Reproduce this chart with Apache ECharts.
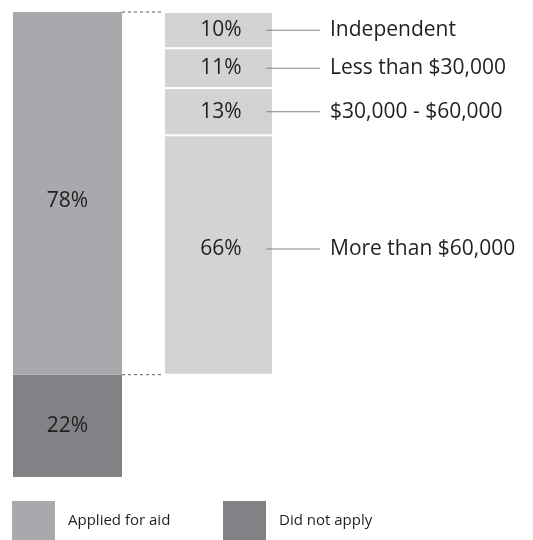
<!DOCTYPE html>
<html>
<head>
<meta charset="utf-8">
<script src="https://cdn.jsdelivr.net/npm/echarts@6/dist/echarts.min.js"></script>
<style>
  html, body { margin: 0; padding: 0; background: #fff; }
  #main { width: 533px; height: 540px; }
</style>
</head>
<body>
<div id="main"></div>
<script>
  // 左边：全部学生
  let categories = ['All', 'Applied'];
  let appliedPct = 78;
  let notAppliedPct = 22;
  // 右边：申请者的收入分布（从下往上）
  let incomeNames = ['More than $60,000', '$30,000 - $60,000', 'Less than $30,000', 'Independent'];
  let incomePct = [66, 13, 11, 10];

  let FONT = '"Open Sans", "Noto Sans", sans-serif';
  let GRID = { left: 67.5, right: 314.5, top: 12, bottom: 63 };
  let BAR_W = 109;
  let chart = echarts.init(document.getElementById('main'));

  // 虚线只画在两根柱子之间的空隙里（第二条x轴 0~1 对应两根柱子的中心）
  let gridW = 533 - GRID.left - GRID.right;
  let gapFrom = (BAR_W / 2) / gridW;
  let gapTo = 1 - (BAR_W / 2) / gridW;
  let dashLine = function (name, v) {
    return {
      name: name,
      type: 'line',
      xAxisIndex: 1,
      silent: true,
      symbol: 'none',
      clip: false,
      data: [[gapFrom, v], [gapTo, v]],
      lineStyle: { color: '#58595b', type: [3, 3], width: 1 }
    };
  };

  let series = [
    {
      name: 'Did not apply',
      type: 'bar',
      stack: 'total',
      clip: false,
      barWidth: BAR_W,
      data: [notAppliedPct, '-'],
      itemStyle: { color: '#808285' },
      label: { show: true, position: 'inside', formatter: '{c}%', fontSize: 21, color: '#231f20', fontFamily: FONT }
    },
    {
      name: 'Applied for aid',
      type: 'bar',
      stack: 'total',
      clip: false,
      barWidth: BAR_W,
      data: [appliedPct, '-'],
      itemStyle: { color: '#a7a9ac' },
      label: { show: true, position: 'inside', formatter: '{c}%', fontSize: 21, color: '#231f20', fontFamily: FONT, offset: [0, 8] }
    },
    {
      // 透明底座，让右边的柱子浮在78%的位置
      name: 'base',
      type: 'bar',
      stack: 'total',
      clip: false,
      barWidth: BAR_W,
      data: ['-', notAppliedPct],
      itemStyle: { color: 'rgba(0,0,0,0)' },
      silent: true
    },
    dashLine('top', appliedPct + notAppliedPct),
    dashLine('split', notAppliedPct)
  ];

  incomePct.forEach(function (p, i) {
    series.push({
      name: incomeNames[i],
      type: 'bar',
      stack: 'total',
      clip: false,
      barWidth: BAR_W,
      data: ['-', appliedPct * p / 100],
      itemStyle: { color: '#d1d3d4', borderColor: '#fff', borderWidth: 1 },
      label: {
        show: true,
        position: 'insideLeft',
        distance: 0,
        offset: i === 0 ? [0, -6] : [0, 0],
        formatter: '{p|' + p + '%}{l|}{n|' + incomeNames[i] + '}',
        rich: {
          p: { width: 90, align: 'center', fontSize: 21, color: '#231f20', fontFamily: FONT, padding: [0, 0, 0, 12] },
          l: { width: 54, height: 1, backgroundColor: '#808285' },
          n: { fontSize: 21, color: '#231f20', fontFamily: FONT, padding: [0, 0, 0, 10] }
        }
      }
    });
  });

  let legendText = { fontSize: 15, color: '#231f20', fontFamily: FONT, padding: [0, 0, 0, 8] };

  chart.setOption({
    animation: false,
    legend: [
      { data: ['Applied for aid'], left: 12, top: 501, padding: 0, icon: 'rect', itemWidth: 43, itemHeight: 40, textStyle: legendText, selectedMode: false },
      { data: ['Did not apply'], left: 223, top: 501, padding: 0, icon: 'rect', itemWidth: 43, itemHeight: 40, textStyle: legendText, selectedMode: false }
    ],
    grid: GRID,
    xAxis: [
      { type: 'category', data: categories, boundaryGap: false, show: false },
      { type: 'value', min: 0, max: 1, show: false }
    ],
    yAxis: {
      type: 'value',
      min: 0,
      max: 100,
      show: false
    },
    series: series
  });
</script>
</body>
</html>
